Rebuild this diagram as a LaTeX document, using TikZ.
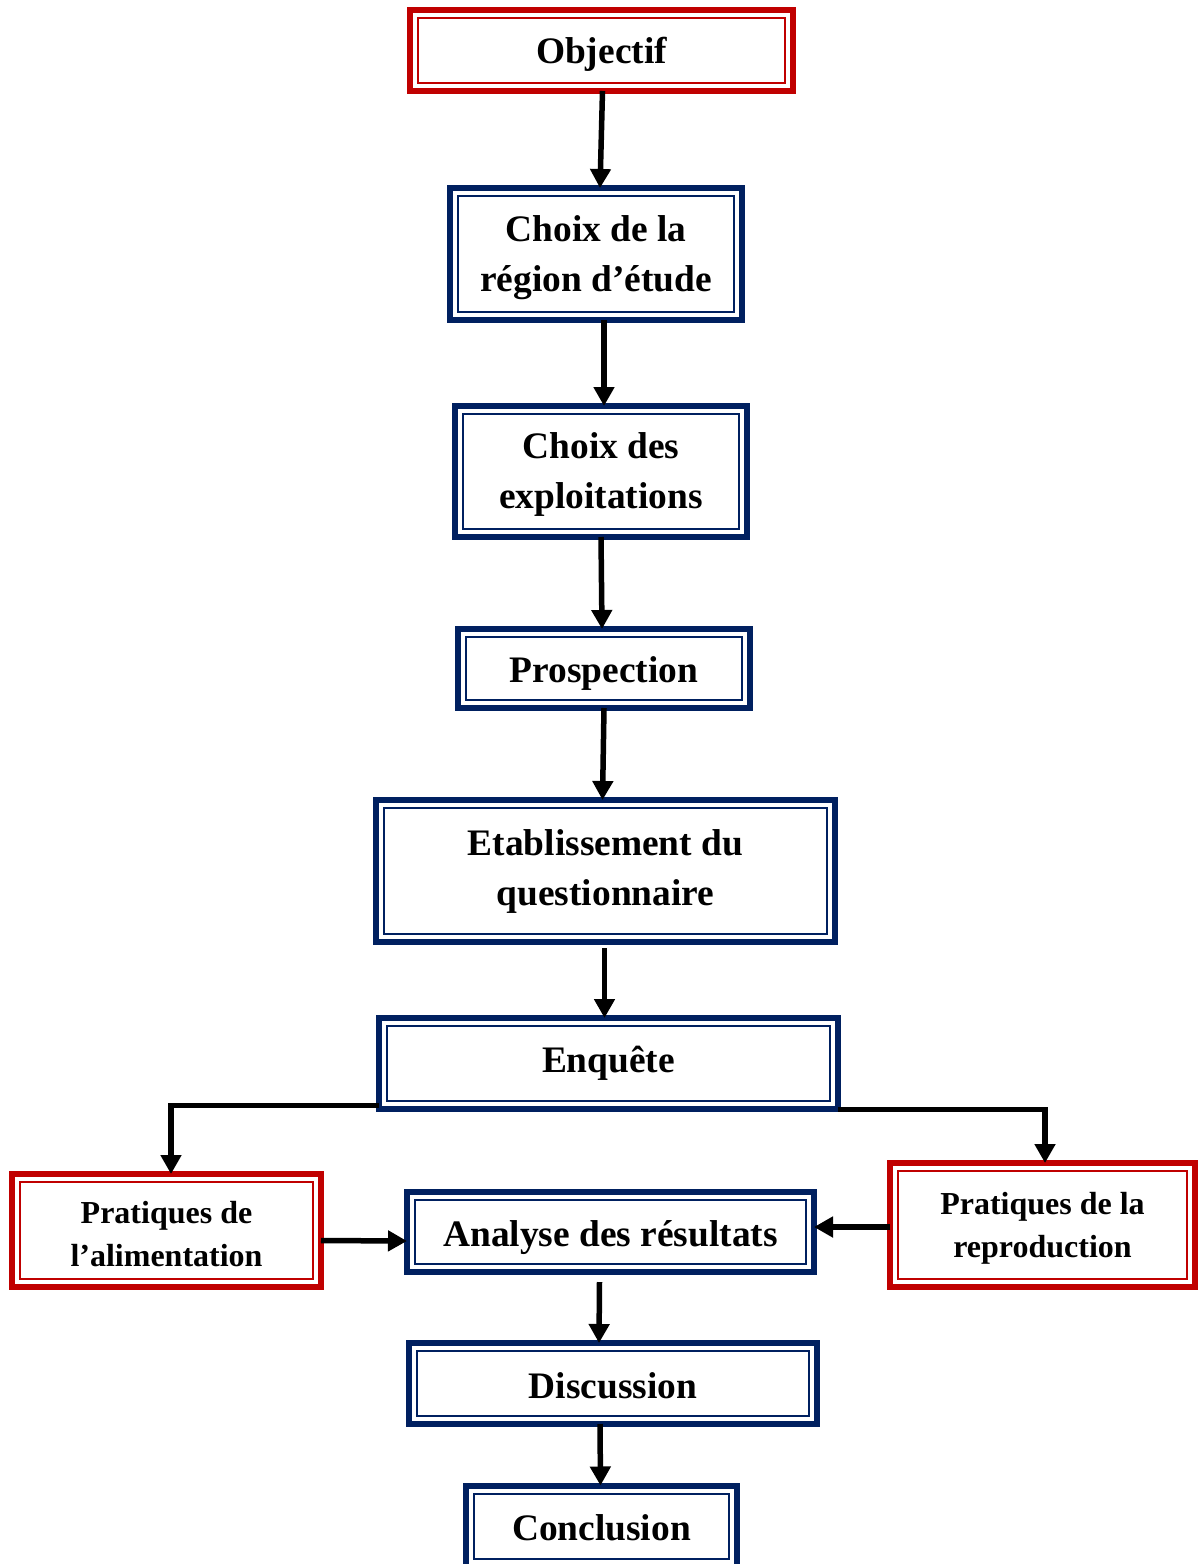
\documentclass[tikz,border=0pt]{standalone}
\usepackage{fontspec}
\setmainfont{Liberation Serif}
\usetikzlibrary{arrows.meta}
\definecolor{bred}{RGB}{192,0,0}
\definecolor{bnavy}{RGB}{0,32,96}
\tikzset{
  box/.style={draw=#1, line width=3pt, outer sep=0pt, inner sep=0pt},
  txt/.style={inner sep=0pt, align=center, font=\fontsize{18.7}{25}\selectfont\bfseries},
  smalltxt/.style={txt, font=\fontsize{16}{21.5}\selectfont\bfseries},
  innerline/.style={draw=#1, line width=1pt},
  conn/.style={line width=2.75pt, -{Triangle[length=9.5pt,width=10pt]}},
}
% #1 name, #2 colour, #3 width, #4 height, #5 centre, #6 text shift, #7 text style, #8 text
\newcommand{\flowbox}[8]{%
  \node[box=#2, minimum width=#3, minimum height=#4] (#1) at (#5) {};
  \draw[innerline=#2] ([shift={(4pt,4pt)}]#1.south west) rectangle ([shift={(-4pt,-4pt)}]#1.north east);
  \node[#7] (#1-t) at ([yshift=#6]#1.center) {#8};}
\begin{document}
\begin{tikzpicture}[x=0.5pt,y=-0.5pt]
\useasboundingbox (0,0) rectangle (1198,1564);
\flowbox{obj}{bred}{191.5pt}{40.5pt}{601.5,50.5}{-2pt}{txt}{Objectif}
\flowbox{reg}{bnavy}{146pt}{66pt}{596,254}{-2pt}{txt}{Choix de la\\région d’étude}
\flowbox{exp}{bnavy}{146pt}{65.5pt}{601,471.5}{-1.5pt}{txt}{Choix des\\exploitations}
\flowbox{pro}{bnavy}{146pt}{39.5pt}{604,668.5}{-2.5pt}{txt}{Prospection}
\flowbox{eta}{bnavy}{229.5pt}{71pt}{605.5,871}{0pt}{txt}{Etablissement du\\questionnaire}
\flowbox{enq}{bnavy}{229.5pt}{45.5pt}{608.5,1063.5}{0pt}{txt}{Enquête}
\flowbox{ali}{bred}{154.5pt}{56.5pt}{166.5,1230.5}{-2pt}{smalltxt}{Pratiques de\\l’alimentation}
\flowbox{ana}{bnavy}{203.5pt}{40pt}{610.5,1232}{-3pt}{txt}{Analyse des résultats}
\flowbox{rep}{bred}{152.5pt}{62pt}{1042.5,1225}{-1.5pt}{smalltxt}{Pratiques de la\\reproduction}
\flowbox{dis}{bnavy}{204pt}{40.5pt}{613,1383.5}{-1pt}{txt}{Discussion}
\flowbox{con}{bnavy}{135.5pt}{40.5pt}{601.5,1526}{-1pt}{txt}{Conclusion}
% connectors
\draw[conn] ([xshift=0.5pt]obj.south) -- ([xshift=2pt]reg.north);
\draw[conn] ([xshift=4pt]reg.south) -- ([xshift=1.5pt]exp.north);
\draw[conn] (exp.south) -- ([xshift=-1pt]pro.north);
\draw[conn] (pro.south) -- ([xshift=-1.5pt]eta.north);
\draw[conn] ([shift={(-0.5pt,-3pt)}]eta.south) -- ([xshift=-2pt]enq.north);
\draw[conn] ([yshift=-21pt]enq.west) -| ([xshift=2.25pt]ali.north);
\draw[conn] ([yshift=-23pt]enq.east) -| ([xshift=1.25pt]rep.north);
\draw[conn] ([yshift=-5pt]ali.east) -- ([yshift=-4.5pt]ana.west);
\draw[conn] ([yshift=-1pt]rep.west) -- ([yshift=2.5pt]ana.east);
\draw[conn] ([shift={(-5.5pt,-5pt)}]ana.south) -- ([xshift=-7pt]dis.north);
\draw[conn] ([xshift=-6.5pt]dis.south) -- ([xshift=-0.5pt]con.north);
\end{tikzpicture}
\end{document}
